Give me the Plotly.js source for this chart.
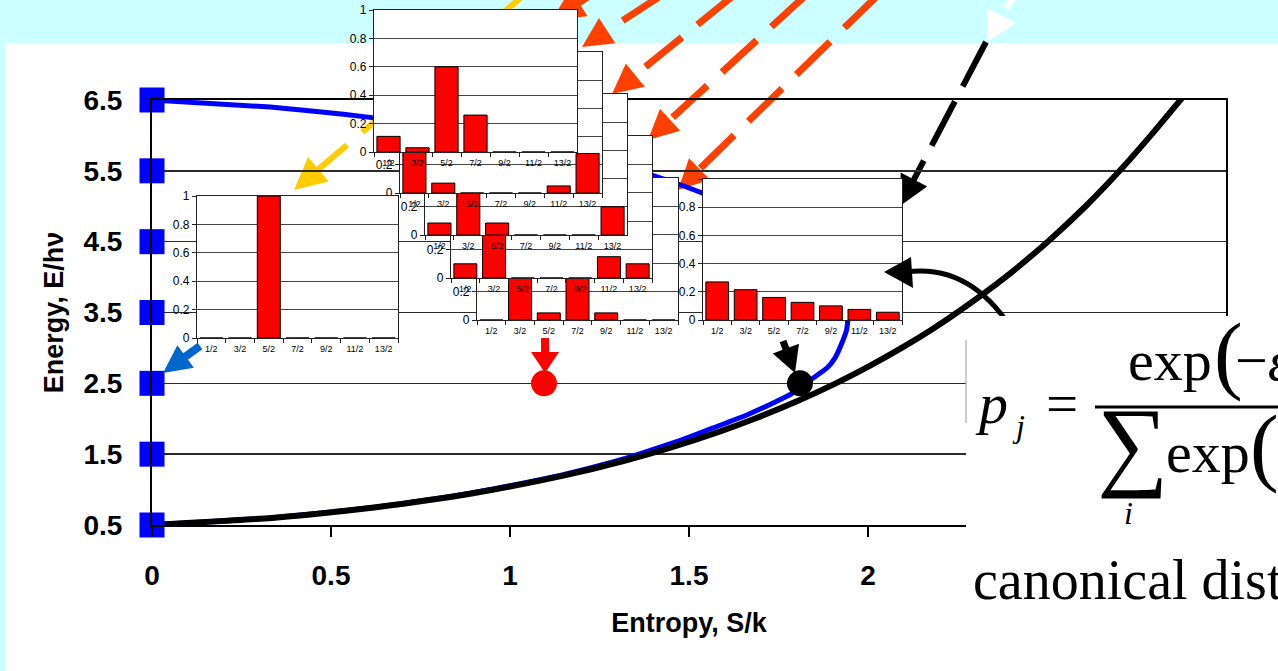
<!DOCTYPE html>
<html><head><meta charset="utf-8">
<script src="https://cdn.plot.ly/plotly-3.0.1.min.js"></script>
<style>html,body{margin:0;padding:0;background:#ccffff;overflow:hidden}#chart{width:1278px;height:671px}</style>
</head><body><div id="chart"></div>
<script>
// ---------- data ----------
const levelEnergy = [0.5, 1.5, 2.5, 3.5, 4.5, 5.5, 6.5];
const levelEntropy = [0, 0, 0, 0, 0, 0, 0];

// canonical (black) curve: entropy vs energy
const canonEnergy = [0.5, 0.6, 0.7, 0.8, 0.9, 1.0, 1.2, 1.4, 1.6, 1.8, 2.0, 2.25, 2.5, 2.75, 3.0, 3.25, 3.5, 4.0, 4.5, 5.0, 5.5, 6.0, 6.6];
const canonEntropy = [0, 0.335, 0.541, 0.702, 0.838, 0.955, 1.152, 1.314, 1.453, 1.575, 1.683, 1.803, 1.910, 2.006, 2.094, 2.175, 2.249, 2.384, 2.502, 2.608, 2.703, 2.790, 2.889];

// maximum-entropy (blue) curve for the seven levels
const maxEntEnergy = [0.5, 0.6, 0.7, 0.8, 0.9, 1.0, 1.2, 1.4, 1.5, 1.7, 1.87, 2.05, 2.23, 2.38, 2.55, 2.72, 2.86, 3.07, 3.25, 3.5, 3.75, 3.93, 4.14, 4.28, 4.45, 4.62, 4.77, 4.95, 5.13, 5.3, 5.5, 5.6, 5.8, 6.0, 6.1, 6.2, 6.3, 6.4, 6.5];
const maxEntEntropy = [0, 0.33, 0.535, 0.695, 0.83, 0.945, 1.14, 1.295, 1.36, 1.478, 1.567, 1.66, 1.738, 1.796, 1.84, 1.886, 1.908, 1.927, 1.94, 1.946, 1.94, 1.927, 1.908, 1.886, 1.84, 1.796, 1.738, 1.66, 1.567, 1.478, 1.36, 1.295, 1.14, 0.945, 0.83, 0.695, 0.535, 0.33, 0];

// highlighted states at E = 2.5
const pointEntropy = [-0.01, 1.095, 1.81];
const pointEnergy = [2.5, 2.5, 2.5];
const pointColors = ['#0066cc', '#ff0000', '#000000'];

// inset distributions
const levelLabels = ['1/2', '3/2', '5/2', '7/2', '9/2', '11/2', '13/2'];
const distA = [0, 0, 1, 0, 0, 0, 0];
const distB = [0.11, 0.03, 0.60, 0.26, 0, 0, 0];
const distC = [0.60, 0.07, 0, 0, 0, 0.05, 0.28];
const distD = [0.085, 0.63, 0.085, 0, 0, 0, 0.20];
const distE = [0.10, 0.65, 0, 0, 0, 0.15, 0.10];
const distF = [0, 0.50, 0.05, 0.40, 0.05, 0, 0];
const distG = [0.27, 0.215, 0.16, 0.125, 0.10, 0.075, 0.055];

const xTickVals = [0, 0.5, 1, 1.5, 2];
const xTickText = ['0', '0.5', '1', '1.5', '2'];

// ---------- helpers ----------
const W = 1278, H = 671;
const X = p => p / W;
const Y = p => 1 - p / H;
const SANS = 'Liberation Sans, Arial, sans-serif';
const SERIF = 'Liberation Serif, Times New Roman, serif';

const traces = [
  {x: maxEntEntropy, y: maxEntEnergy, xaxis: 'x', yaxis: 'y', mode: 'lines', line: {color: '#0000ff', width: 5, shape: 'spline', smoothing: 0.4}},
  {x: canonEntropy, y: canonEnergy, xaxis: 'x', yaxis: 'y', mode: 'lines', line: {color: '#000000', width: 6, shape: 'spline', smoothing: 0.5}},
  {x: levelEntropy, y: levelEnergy, xaxis: 'x', yaxis: 'y', mode: 'markers', cliponaxis: false,
   marker: {symbol: 'square', size: 25, color: '#0000ff'}},
  {x: pointEntropy, y: pointEnergy, xaxis: 'x', yaxis: 'y', mode: 'markers', cliponaxis: false,
   marker: {symbol: 'circle', size: 26, color: pointColors}}
];

const layout = {
  width: W, height: H,
  margin: {l: 0, r: 0, t: 0, b: 0, pad: 0},
  paper_bgcolor: '#ccffff',
  plot_bgcolor: '#ffffff',
  showlegend: false,
  bargap: 0.2,
  xaxis: {
    domain: [X(152), X(1226)], range: [0, 3], anchor: 'y',
    tickvals: xTickVals, ticktext: xTickText,
    ticks: 'outside', ticklen: 10, tickwidth: 1.5, tickcolor: '#000',
    showline: true, linecolor: '#000', linewidth: 2, mirror: true,
    showgrid: false, zeroline: false, ticklabelstandoff: 14,
    tickfont: {family: SANS, size: 28, weight: 700, color: '#000'},
    title: {text: 'Entropy, S/k', font: {family: SANS, size: 27, weight: 700, color: '#000'}, standoff: 24}
  },
  yaxis: {
    domain: [Y(525), Y(100)], range: [0.5, 6.5], anchor: 'x',
    tickvals: levelEnergy, ticks: '',
    showline: true, linecolor: '#000', linewidth: 2, mirror: true,
    showgrid: true, gridcolor: '#2a2a2a', gridwidth: 1.5, zeroline: false, ticklabelstandoff: 22,
    tickfont: {family: SANS, size: 28, weight: 700, color: '#000'},
    title: {text: 'Energy, E/hν', font: {family: SANS, size: 27, weight: 700, color: '#000'}, standoff: 12}
  },
  shapes: [],
  annotations: []
};

// ---------- inset bar charts (later = on top) ----------
const insets = [
  {n: 2, data: distG, box: [703, 902, 179, 320], hideTop: true},
  {n: 3, data: distF, box: [477, 678, 178, 320]},
  {n: 4, data: distE, box: [451, 652, 136, 278]},
  {n: 5, data: distD, box: [425, 627, 94, 235]},
  {n: 6, data: distC, box: [400, 602, 52, 193]},
  {n: 7, data: distB, box: [374, 577, 10, 152]},
  {n: 8, data: distA, box: [197, 398, 196, 338]}
];
insets.forEach(s => {
  const [x0, x1, y0, y1] = s.box;
  traces.push({type: 'bar', x: levelLabels, y: s.data, xaxis: 'x' + s.n, yaxis: 'y' + s.n,
    marker: {color: '#ff0000', line: {color: '#000', width: 1}}});
  layout['xaxis' + s.n] = {
    domain: [X(x0), X(x1)], anchor: 'y' + s.n, type: 'category',
    showline: true, linecolor: '#222', linewidth: 1.2, mirror: true,
    ticks: 'outside', tickson: 'boundaries', ticklen: 4, tickcolor: '#222',
    showgrid: false, zeroline: false, tickangle: 0, ticklabelstandoff: 2,
    tickfont: {family: SANS, size: 9, color: '#000'}
  };
  layout['yaxis' + s.n] = {
    domain: [Y(y1), Y(y0)], anchor: 'x' + s.n, range: [0, 1],
    tickvals: [0, 0.2, 0.4, 0.6, 0.8, 1],
    ticktext: ['0', '0.2', '0.4', '0.6', '0.8', s.hideTop ? '' : '1'],
    showline: true, linecolor: '#222', linewidth: 1.2, mirror: true,
    ticks: 'outside', ticklen: 4, tickcolor: '#222',
    showgrid: true, gridcolor: '#444', gridwidth: 1.2, zeroline: false,
    tickfont: {family: SANS, size: 12, color: '#000'}
  };
});

// ---------- decorations ----------
function arrow(x0, y0, tx, ty, o) {
  const vx = x0 - tx, vy = y0 - ty, n = Math.hypot(vx, vy);
  const ux = vx / n, uy = vy / n, px = -uy, py = ux;
  const bx = tx + ux * o.len, by = ty + uy * o.len;
  const ex = tx + ux * o.len * 0.6, ey = ty + uy * o.len * 0.6;
  const hw = o.wid / 2;
  layout.shapes.push({type: 'line', xref: 'paper', yref: 'paper', layer: o.layer,
    x0: X(x0), y0: Y(y0), x1: X(ex), y1: Y(ey),
    line: {color: o.color, width: o.width, dash: o.dash || 'solid'}});
  layout.shapes.push({type: 'path', xref: 'paper', yref: 'paper', layer: o.layer,
    path: `M${X(tx)},${Y(ty)} L${X(bx + px * hw)},${Y(by + py * hw)} L${X(bx - px * hw)},${Y(by - py * hw)} Z`,
    fillcolor: o.color, line: {width: 0}});
}
function poly(pts, color, layer) {
  layout.shapes.push({type: 'path', xref: 'paper', yref: 'paper', layer: layer,
    path: 'M' + pts.map(p => X(p[0]) + ',' + Y(p[1])).join(' L') + ' Z',
    fillcolor: color, line: {width: 0}});
}

// white slide body
layout.shapes.push({type: 'rect', xref: 'paper', yref: 'paper', layer: 'below',
  x0: X(5), x1: X(1290), y0: Y(43), y1: Y(690), fillcolor: '#ffffff', line: {width: 0}});

// dashed arrows behind the insets
const OR = '#ff4000';
arrow(524, -5, 294, 190, {len: 32, wid: 32, color: '#ffcc00', width: 6, dash: '38px,20px', layer: 'below'});
arrow(720, -88, 552, 20, {len: 32, wid: 32, color: OR, width: 7, dash: '47px,20px', layer: 'below'});
arrow(662, -5, 582, 47, {len: 30, wid: 30, color: OR, width: 7, dash: '47px,20px', layer: 'below'});
arrow(734, -5, 612, 94, {len: 30, wid: 30, color: OR, width: 7, dash: '47px,20px', layer: 'below'});
arrow(806, -5, 648, 140, {len: 30, wid: 30, color: OR, width: 7, dash: '47px,20px', layer: 'below'});
arrow(878, -5, 678, 190, {len: 30, wid: 30, color: OR, width: 7, dash: '47px,20px', layer: 'below'});
arrow(986, 42, 900, 206, {len: 30, wid: 30, color: '#000', width: 6, dash: '50px,17px', layer: 'below'});
layout.shapes.push({type: 'line', xref: 'paper', yref: 'paper', layer: 'below',
  x0: X(1013), y0: Y(-2), x1: X(1006), y1: Y(8), line: {color: '#fff', width: 6}});
poly([[987, 8], [1016, 23], [987, 42]], '#ffffff', 'below');

// small arrows to the marked states
arrow(200, 346, 163, 373, {len: 28, wid: 28, color: '#0066cc', width: 8, layer: 'above'});
arrow(545, 338, 545, 373, {len: 21, wid: 28, color: '#ff0000', width: 8, layer: 'above'});
arrow(783, 341, 795, 373, {len: 26, wid: 28, color: '#000000', width: 7, layer: 'above'});

// curved arrow from the formula
layout.shapes.push({type: 'path', xref: 'paper', yref: 'paper', layer: 'above',
  path: `M${X(1016)},${Y(336)} Q${X(973)},${Y(263)} ${X(906)},${Y(272)}`,
  line: {color: '#000', width: 5}});
poly([[884, 272], [911, 257], [913, 288]], '#000000', 'above');

// formula panel
layout.shapes.push({type: 'rect', xref: 'paper', yref: 'paper', layer: 'above',
  x0: X(966), x1: X(1290), y0: Y(316), y1: Y(690), fillcolor: '#ffffff', line: {width: 0}});
layout.shapes.push({type: 'line', xref: 'paper', yref: 'paper', layer: 'above',
  x0: X(966), x1: X(966), y0: Y(340), y1: Y(423), line: {color: '#999', width: 1}});
layout.shapes.push({type: 'line', xref: 'paper', yref: 'paper', layer: 'above',
  x0: X(1095), x1: X(1290), y0: Y(407), y1: Y(407), line: {color: '#000', width: 3}});

function txt(s, x, y, size, extra) {
  layout.annotations.push(Object.assign({text: s, xref: 'paper', yref: 'paper', x: X(x), y: Y(y),
    xanchor: 'left', yanchor: 'middle', showarrow: false, borderpad: 0,
    font: {family: SERIF, size: size, color: '#000'}}, extra || {}));
}
txt('<i>p</i>', 974, 403, 58);
txt('<i>j</i>', 1011, 426, 32);
txt('=', 1045, 403, 57);
txt('exp', 1127, 360, 58);
txt('(', 1213, 354, 86);
txt('−<i>ε</i>', 1234, 360, 58);
txt('∑', 1096, 444, 100);
txt('exp', 1165, 452, 58);
txt('(', 1249, 446, 86);
txt('<i>i</i>', 1123, 513, 32);
txt('canonical distribution', 972, 580, 56);

Plotly.newPlot('chart', traces, layout, {staticPlot: true, displayModeBar: false});
</script>
</body></html>
